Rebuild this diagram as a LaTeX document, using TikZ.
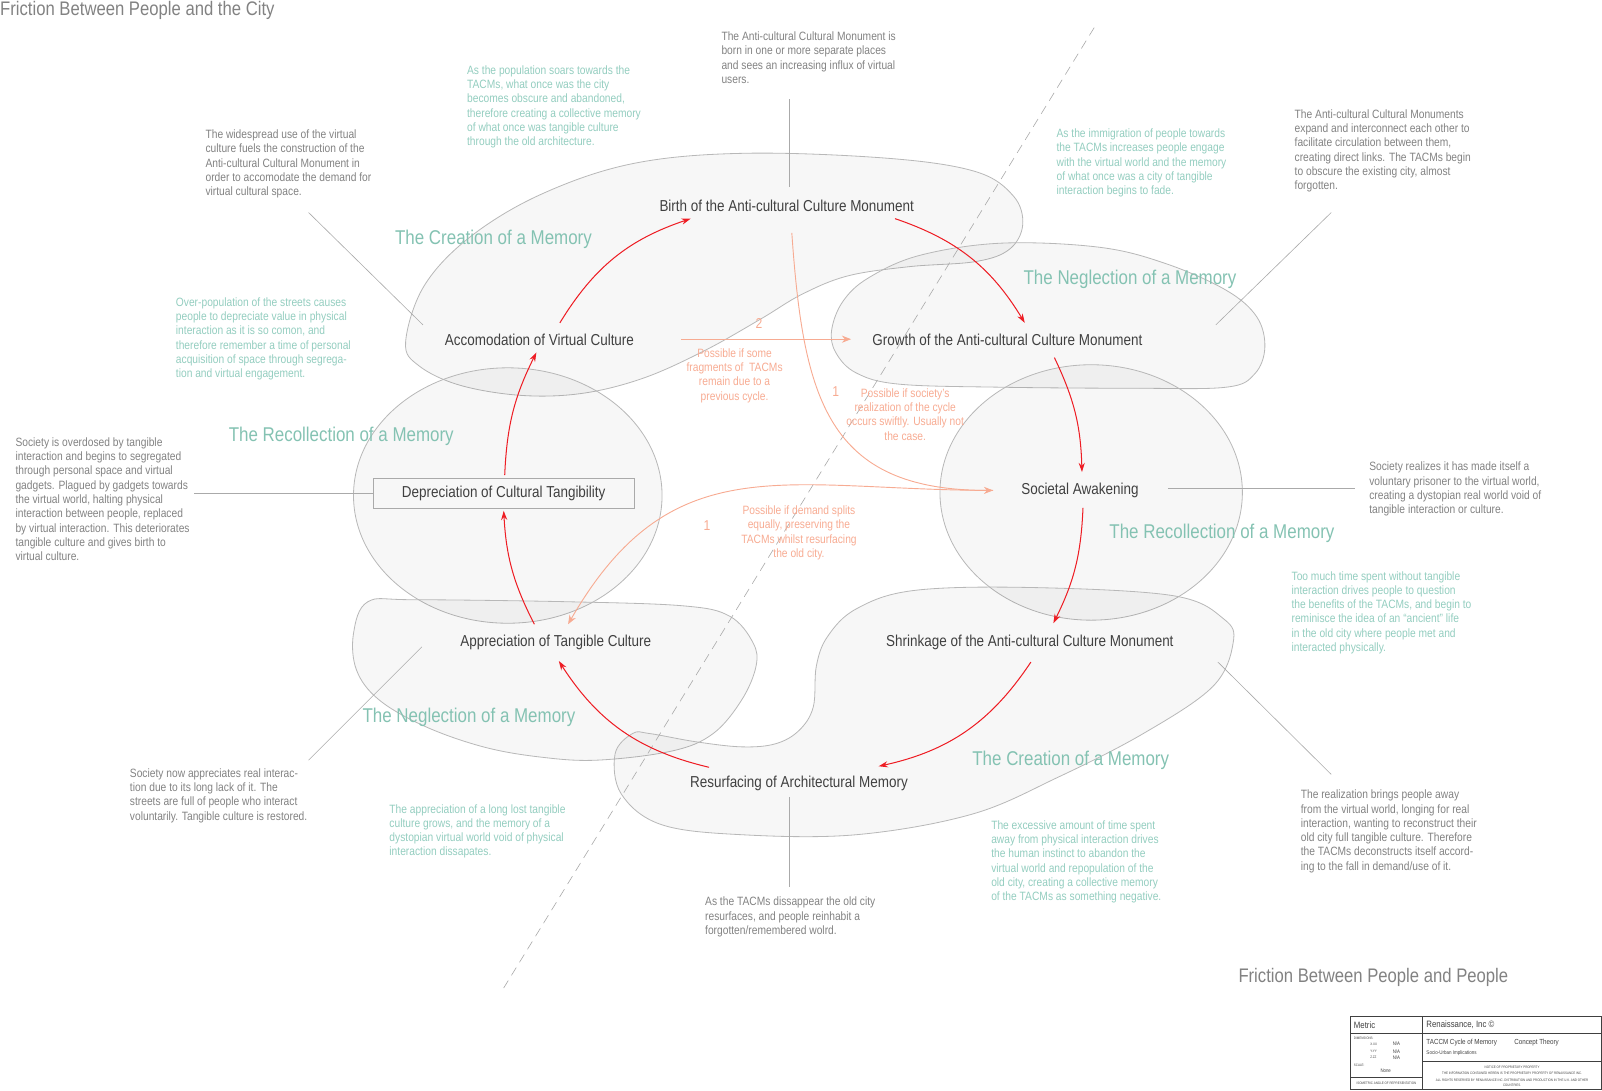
\documentclass[tikz,border=0pt]{standalone}
\usepackage{fontspec}
\setmainfont{Liberation Sans}[FakeStretch=0.85]
\usetikzlibrary{arrows.meta}

\definecolor{notegray}{HTML}{828282}
\definecolor{notegreen}{HTML}{93CDBF}
\definecolor{memgreen}{HTML}{84C2B2}
\definecolor{stagetext}{HTML}{404040}
\definecolor{cycred}{HTML}{EE1D24}
\definecolor{forkorange}{HTML}{F7AB92}
\definecolor{blobline}{HTML}{B8B8B8}
\definecolor{leadgray}{HTML}{AAAAAA}

\newcommand{\notesize}{\fontsize{11.8}{14}\selectfont}
\newcommand{\stagesize}{\fontsize{15.5}{18}\selectfont}
\newcommand{\memsize}{\fontsize{19.5}{23}\selectfont}
\newcommand{\titlesize}{\fontsize{19.2}{23}\selectfont}
\newcommand{\tinysize}{\fontsize{3.4}{4}\selectfont}

\begin{document}
\begin{tikzpicture}[x=1pt, y=-1pt,
  blob/.style={draw=blobline, line width=0.8pt, fill=black, fill opacity=0.03},
  stage/.style={font=\stagesize, text=stagetext, inner sep=0pt},
  memory/.style={font=\memsize, text=memgreen, inner sep=0pt},
  note/.style={font=\notesize, text=notegray, align=left, anchor=north west, inner sep=0pt},
  greennote/.style={note, text=notegreen},
  fork/.style={font=\notesize, text=forkorange, align=center, anchor=north, inner sep=0pt},
  cyc/.style={draw=cycred, line width=1pt, -{Stealth[length=9pt,width=6pt]}},
  forkarrow/.style={draw=forkorange, line width=0.9pt, -{Stealth[length=9pt,width=7pt]}},
  lead/.style={draw=leadgray, line width=0.6pt},
  cut/.style={draw=leadgray, line width=0.6pt, dash pattern=on 9pt off 6pt}]

% Canvas
\useasboundingbox (0,0) rectangle (1568,1067);

% Memory regions
\draw[blob] plot[smooth cycle, tension=0.6] coordinates {(397,335) (415,280) (460,232) (530,190) (620,160) (730,150) (870,155) (955,168) (992,192) (1001,220) (988,244) (955,256) (890,261) (830,270) (785,288) (745,312) (690,343) (630,370) (570,385) (510,387) (450,377) (410,358)};
\draw[blob] plot[smooth cycle, tension=0.6] coordinates {(814,323) (825,295) (850,272) (900,250) (980,238) (1076,242) (1141,258) (1200,284) (1230,310) (1238,340) (1228,366) (1200,379) (1110,380) (980,379) (880,376) (838,365) (818,345)};
\draw[blob] (497,485) ellipse [x radius=151, y radius=125];
\draw[blob] (1068,482) ellipse [x radius=148, y radius=125];
\draw[blob] plot[smooth cycle, tension=0.6] coordinates {(360,589) (405,587) (557,589) (669,593) (714,603) (737,629) (740,652) (726,685) (698,718) (658,735) (585,744) (529,741) (473,731) (416,711) (371,685) (349,656) (346,620)};
\draw[blob] plot[smooth cycle, tension=0.6] coordinates {(602,738) (608,777) (647,807) (726,817) (838,817) (951,797) (1035,761) (1119,718) (1187,672) (1207,629) (1198,606) (1148,583) (1007,575) (894,578) (838,596) (810,623) (799,652) (796,692) (782,715) (759,728) (726,731) (681,726) (636,718) (619,718)};

% Dividing line
\coordinate (cutA) at (1071,27);
\coordinate (cutB) at (493,967);
\draw[cut] (cutA) -- (cutB);

% Cycle stages
\node[stage] (birth) at (770,201) {Birth of the Anti-cultural Culture Monument};
\node[stage] (growth) at (986,333) {Growth of the Anti-cultural Culture Monument};
\node[stage] (awake) at (1057,480) {Societal Awakening};
\node[stage] (shrink) at (1008,629) {Shrinkage of the Anti-cultural Culture Monument};
\node[stage] (resurf) at (782,767) {Resurfacing of Architectural Memory};
\node[stage] (apprec) at (544,629) {Appreciation of Tangible Culture};
\node[stage, draw=leadgray, line width=0.8pt, minimum width=256, minimum height=29] (deprec) at (493,483) {Depreciation of Cultural Tangibility};
\node[stage] (accom) at (528,333) {Accomodation of Virtual Culture};

% Cycle arrows
\draw[cyc] ([shift={(20,-17)}]accom.center) to[bend left=20] ([shift={(-94,13)}]birth.center);
\draw[cyc] ([shift={(106,13)}]birth.center) to[bend left=20] ([shift={(17,-17)}]growth.center);
\draw[cyc] ([shift={(46,17)}]growth.center) to[bend left=12] ([shift={(2,-18)}]awake.center);
\draw[cyc] ([shift={(3,17)}]awake.center) to[bend left=12] ([shift={(23,-19)}]shrink.center);
\draw[cyc] ([shift={(1,19)}]shrink.center) to[bend left=22] ([shift={(78,-17)}]resurf.center);
\draw[cyc] ([shift={(-88,-16)}]resurf.center) to[bend left=22] ([shift={(3,18)}]apprec.center);
\draw[cyc] ([shift={(-21,-18)}]apprec.center) to[bend left=12] ([shift={(0,17)}]deprec.center);
\draw[cyc] ([shift={(1,-18)}]deprec.center) to[bend left=12] ([shift={(-3,12)}]accom.center);

% Shortcuts
\coordinate (frag) at (667,332);
\draw[forkarrow] (frag) -- ([shift={(-153,-1)}]growth.center);
\draw[forkarrow] ([shift={(5,27)}]birth.center) to[out=-86, in=180, looseness=1.3] ([shift={(-85,0)}]awake.center);
\draw[forkarrow] ([shift={(-85,0)}]awake.center) to[out=180, in=60, looseness=1.2] ([shift={(12,-18)}]apprec.center);
\node[font=\fontsize{14}{16}\selectfont, text=forkorange] (two) at (743,317) {2};
\node[font=\fontsize{14}{16}\selectfont, text=forkorange] (oneA) at (818,383) {1};
\node[font=\fontsize{14}{16}\selectfont, text=forkorange] (oneB) at (692,514) {1};
\node[fork] (fragnote) at (719,341) {Possible if some\\fragments of\ \ TACMs\\remain due to a\\previous cycle.};
\node[fork] (swiftnote) at (886,380) {Possible if society’s\\realization of the cycle\\occurs swiftly. Usually not\\the case.};
\node[fork] (splitnote) at (782,495) {Possible if demand splits\\equally, preserving the\\TACMs whilst resurfacing\\the old city.};

% Memory labels
\node[memory] (memA) at (483,234) {The Creation of a Memory};
\node[memory] (memB) at (1106,273) {The Neglection of a Memory};
\node[memory] (memC) at (334,427) {The Recollection of a Memory};
\node[memory] (memD) at (1196,522) {The Recollection of a Memory};
\node[memory] (memE) at (459,702) {The Neglection of a Memory};
\node[memory] (memF) at (1048,744) {The Creation of a Memory};

% Notes
\node[note] (usenote) at (201,127) {The widespread use of the virtual\\culture fuels the construction of the\\Anti-cultural Cultural Monument in\\order to accomodate the demand for\\virtual cultural space.};
\node[greennote] (soarnote) at (457,64) {As the population soars towards the\\TACMs, what once was the city\\becomes obscure and abandoned,\\therefore creating a collective memory\\of what once was tangible culture\\through the old architecture.};
\node[note] (bornnote) at (706,31) {The Anti-cultural Cultural Monument is\\born in one or more separate places\\and sees an increasing influx of virtual\\users.};
\node[greennote] (immnote) at (1034,126) {As the immigration of people towards\\the TACMs increases people engage\\with the virtual world and the memory\\of what once was a city of tangible\\interaction begins to fade.};
\node[note] (expandnote) at (1267,107) {The Anti-cultural Cultural Monuments\\expand and interconnect each other to\\facilitate circulation between them,\\creating direct links. The TACMs begin\\to obscure the existing city, almost\\forgotten.};
\node[greennote] (overnote) at (172,291) {Over-population of the streets causes\\people to depreciate value in physical\\interaction as it is so comon, and\\therefore remember a time of personal\\acquisition of space through segrega-\\tion and virtual engagement.};
\node[note] (dosenote) at (15,428) {Society is overdosed by tangible\\interaction and begins to segregated\\through personal space and virtual\\gadgets. Plagued by gadgets towards\\the virtual world, halting physical\\interaction between people, replaced\\by virtual interaction. This deteriorates\\tangible culture and gives birth to\\virtual culture.};
\node[note] (prisonnote) at (1340,452) {Society realizes it has made itself a\\voluntary prisoner to the virtual world,\\creating a dystopian real world void of\\tangible interaction or culture.};
\node[greennote] (ancientnote) at (1264,559) {Too much time spent without tangible\\interaction drives people to question\\the benefits of the TACMs, and begin to\\reminisce the idea of an “ancient” life\\in the old city where people met and\\interacted physically.};
\node[note] (restorenote) at (127,752) {Society now appreciates real interac-\\tion due to its long lack of it. The\\streets are full of people who interact\\voluntarily. Tangible culture is restored.};
\node[greennote] (lostnote) at (381,787) {The appreciation of a long lost tangible\\culture grows, and the memory of a\\dystopian virtual world void of physical\\interaction dissapates.};
\node[note] (reinnote) at (690,878) {As the TACMs dissappear the old city\\resurfaces, and people reinhabit a\\forgotten/remembered wolrd.};
\node[greennote] (excessnote) at (970,803) {The excessive amount of time spent\\away from physical interaction drives\\the human instinct to abandon the\\virtual world and repopulation of the\\old city, creating a collective memory\\of the TACMs as something negative.};
\node[note] (awaynote) at (1273,773) {The realization brings people away\\from the virtual world, longing for real\\interaction, wanting to reconstruct their\\old city full tangible culture. Therefore\\the TACMs deconstructs itself accord-\\ing to the fall in demand/use of it.};

% Leader lines
\coordinate (ldA) at (302,208); \coordinate (ldA2) at (414,318);
\coordinate (ldB) at (773,97); \coordinate (ldB2) at (773,183);
\coordinate (ldC) at (1303,208); \coordinate (ldC2) at (1190,318);
\coordinate (ldD) at (190,483);
\coordinate (ldE) at (1143,478); \coordinate (ldE2) at (1326,478);
\coordinate (ldF) at (302,744); \coordinate (ldF2) at (413,633);
\coordinate (ldG) at (1192,648); \coordinate (ldG2) at (1303,758);
\coordinate (ldH) at (773,780); \coordinate (ldH2) at (773,868);
\draw[lead] (ldA) -- (ldA2);
\draw[lead] (ldB) -- (ldB2);
\draw[lead] (ldC) -- (ldC2);
\draw[lead] (ldD) -- (deprec.west);
\draw[lead] (ldE) -- (ldE2);
\draw[lead] (ldF) -- (ldF2);
\draw[lead] (ldG) -- (ldG2);
\draw[lead] (ldH) -- (ldH2);

% Titles
\node[font=\titlesize, text=notegray, anchor=base west, inner sep=0pt] (cityttl) at (0,15) {Friction Between People and the City};
\node[font=\titlesize, text=notegray, anchor=base west, inner sep=0pt] (peoplettl) at (1212,962) {Friction Between People and People};

% Title block
\draw[draw=stagetext, line width=0.6pt] (1322,995) rectangle (1567.5,1066.5);
\draw[draw=stagetext, line width=0.5pt] (1392,995) -- (1392,1066.5);
\draw[draw=stagetext, line width=0.5pt] (1322,1011) -- (1567.5,1011);
\draw[draw=stagetext, line width=0.5pt] (1392,1039) -- (1567.5,1039);
\draw[draw=stagetext, line width=0.5pt] (1322,1054) -- (1392,1054);
\node[font=\fontsize{9}{10}\selectfont, text=stagetext, anchor=west, inner sep=0pt] at (1325,1003) {Metric};
\node[font=\fontsize{9}{10}\selectfont, text=stagetext, anchor=west, inner sep=0pt] at (1396,1003) {Renaissance, Inc ©};
\node[font=\fontsize{7.2}{8}\selectfont, text=stagetext, anchor=west, inner sep=0pt] at (1396,1020) {TACCM Cycle of Memory};
\node[font=\fontsize{7.2}{8}\selectfont, text=stagetext, anchor=west, inner sep=0pt] at (1482,1020) {Concept Theory};
\node[font=\fontsize{5.2}{6}\selectfont, text=stagetext, anchor=west, inner sep=0pt] at (1396,1031) {Socio-Urban Implications};
\node[font=\tinysize, text=stagetext, anchor=west, inner sep=0pt] at (1325,1016) {DIMENSIONS:};
\node[font=\tinysize, text=stagetext, anchor=west, inner sep=0pt] at (1341,1022) {X.XX};
\node[font=\tinysize, text=stagetext, anchor=west, inner sep=0pt] at (1341,1029) {Y-YY};
\node[font=\tinysize, text=stagetext, anchor=west, inner sep=0pt] at (1341,1035) {Z.ZZ};
\node[font=\fontsize{5}{6}\selectfont, text=stagetext, anchor=west, inner sep=0pt] at (1363,1022) {N/A};
\node[font=\fontsize{5}{6}\selectfont, text=stagetext, anchor=west, inner sep=0pt] at (1363,1029) {N/A};
\node[font=\fontsize{5}{6}\selectfont, text=stagetext, anchor=west, inner sep=0pt] at (1363,1035) {N/A};
\node[font=\tinysize, text=stagetext, anchor=west, inner sep=0pt] at (1325,1043) {SCALE:};
\node[font=\fontsize{5}{6}\selectfont, text=stagetext, anchor=west, inner sep=0pt] at (1351,1048) {None};
\node[font=\tinysize, text=stagetext, inner sep=0pt] at (1357,1060) {ISOMETRIC ANGLE OF REPRESENTATION};
\node[font=\tinysize, text=stagetext, inner sep=0pt] at (1480,1045) {NOTICE OF PROPRIETARY PROPERTY};
\node[font=\tinysize, text=stagetext, inner sep=0pt] at (1480,1051) {THE INFORMATION CONTAINED HEREIN IS THE PROPRIETARY PROPERTY OF RENAISSANCE INC.};
\node[font=\tinysize, text=stagetext, inner sep=0pt] at (1480,1057) {ALL RIGHTS RESERVED BY RENAISSANCE INC. DISTRIBUTION AND PRODUCTION IN THE U.K. AND OTHER};
\node[font=\tinysize, text=stagetext, inner sep=0pt] at (1480,1062) {COUNTRIES.};

\end{tikzpicture}
\end{document}
